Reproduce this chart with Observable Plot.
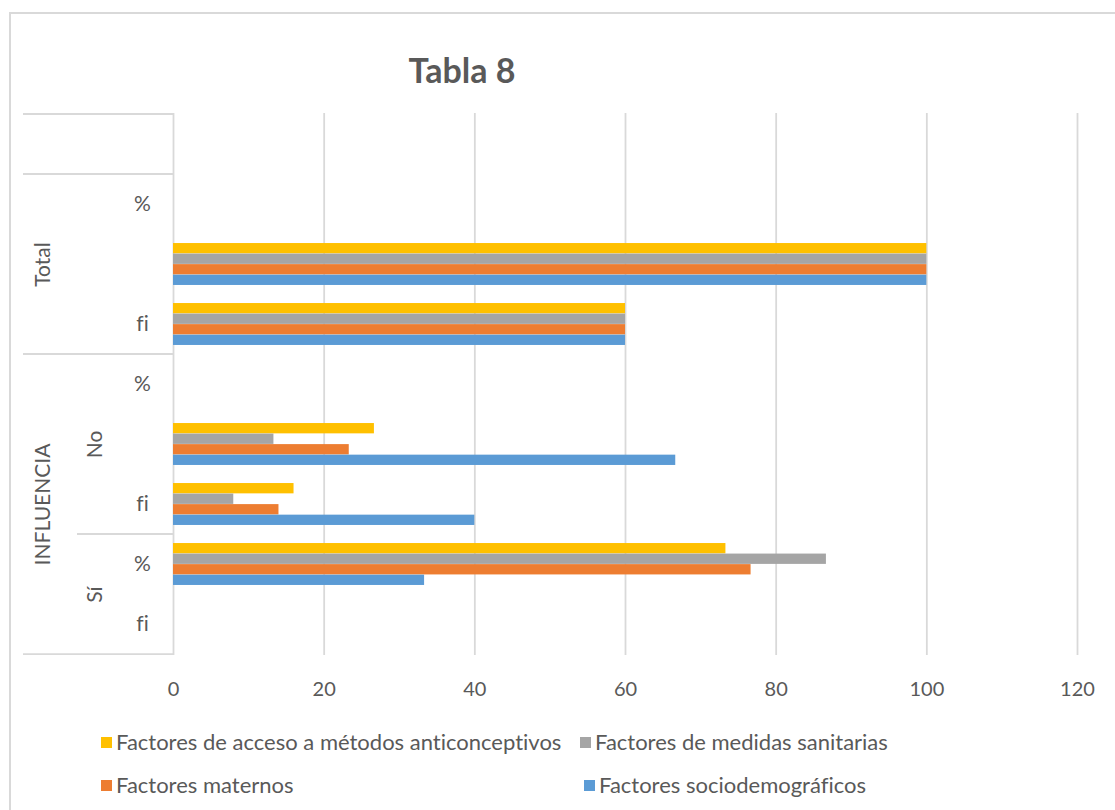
<!DOCTYPE html>
<html><head><meta charset="utf-8">
<script src="https://cdn.jsdelivr.net/npm/d3@7"></script>
<script src="https://cdn.jsdelivr.net/npm/@observablehq/plot@0.6"></script>
<style>
body{margin:0;background:#fff;font-family:Lato,"Open Sans",sans-serif;font-variant-ligatures:none;}
#wrap{position:relative;width:1115px;height:810px;overflow:hidden;background:#fff;}
#frame{position:absolute;left:9px;top:12px;width:1120px;height:820px;border-left:2px solid #d9d9d9;border-top:2px solid #d9d9d9;}
#chart{position:absolute;left:0;top:0;}
#chart svg text{font-variant-ligatures:none;}
#title{position:absolute;top:47px;left:362px;width:200px;text-align:center;font-weight:bold;font-size:34px;line-height:46px;color:#595959;}
.leg{position:absolute;font-size:22px;line-height:28px;color:#595959;white-space:nowrap;display:flex;align-items:center;}
.sw{display:inline-block;width:11px;height:11px;margin-right:4px;}
</style></head>
<body><div id="wrap"><div id="frame"></div><div id="chart"></div><div id="title">Tabla 8</div><div id="legend"></div></div>
<script>
// category slots, top to bottom
const slots = ["r1","r2","r3","r4","r5","r6","r7","r8","r9"];
const innerLabels = ["", "%", "", "fi", "%", "", "fi", "%", "fi"];
const outerLabels = [
  {slot: "r3", text: "Total", level: 0},
  {slot: "r7", text: "INFLUENCIA", level: 0},
  {slot: "r6", text: "No", level: 1},
  {slot: "r8", text: "Sí", level: 1}
];
const series = [
  "Factores de acceso a métodos anticonceptivos",
  "Factores de medidas sanitarias",
  "Factores maternos",
  "Factores sociodemográficos"
];
const colors = ["#FFC000", "#A5A5A5", "#ED7D31", "#5B9BD5"];
const acceso    = [null, null, 100, 60, null, 26.67, 16, 73.33, null];
const medidas   = [null, null, 100, 60, null, 13.33,  8, 86.67, null];
const maternos  = [null, null, 100, 60, null, 23.33, 14, 76.67, null];
const socio     = [null, null, 100, 60, null, 66.67, 40, 33.33, null];
const xTicks = [0, 20, 40, 60, 80, 100, 120];

const seriesValues = [acceso, medidas, maternos, socio];
const W = 1115, H = 720, mTop = 113, mBottom = H - 655, mLeft = 173, mRight = W - 1077;
const bw = (H - mTop - mBottom) / slots.length;
const groupFrac = 0.70;
const barH = bw * groupFrac / 4;
const gap = (bw - barH * 4) / 2;

const rows = [];
seriesValues.forEach((vals, k) => vals.forEach((v, i) => {
  if (v != null) rows.push({slot: slots[i], value: v, k});
}));
const inner = slots.map((s, i) => ({slot: s, text: innerLabels[i]})).filter(d => d.text);

const marks = [
  Plot.gridX(xTicks, {stroke: "#d9d9d9", strokeOpacity: 1, strokeWidth: 1.8}),
  ...series.map((name, k) => Plot.barX(rows.filter(d => d.k === k), {
    y: "slot", x: "value", fill: colors[k],
    insetTop: gap + barH * k, insetBottom: gap + barH * (3 - k)
  })),
  Plot.text(inner, {y: "slot", text: "text", frameAnchor: "left", dx: -31, textAnchor: "middle", fill: "#595959", fontSize: 21}),
  Plot.text(outerLabels.filter(d => d.level === 0), {y: "slot", text: "text", frameAnchor: "left", dx: -130, rotate: -90, textAnchor: "middle", fill: "#595959", fontSize: 21}),
  Plot.text(outerLabels.filter(d => d.level === 1 && d.text === "No"), {y: "slot", text: "text", frameAnchor: "left", dx: -78, rotate: -90, textAnchor: "middle", fill: "#595959", fontSize: 21}),
  Plot.text(outerLabels.filter(d => d.level === 1 && d.text === "Sí"), {y: "slot", text: "text", frameAnchor: "left", dx: -78, dy: bw / 2, rotate: -90, textAnchor: "middle", fill: "#595959", fontSize: 21})
];

const chart = Plot.plot({
  width: W, height: H,
  marginTop: mTop, marginBottom: mBottom, marginLeft: mLeft, marginRight: mRight,
  style: {fontFamily: "Lato, 'Open Sans', sans-serif", fontSize: "20px", color: "#595959", background: "transparent"},
  x: {domain: [0, 120], ticks: xTicks, tickSize: 0, tickPadding: 26, label: null, tickFormat: d => String(d)},
  y: {domain: slots, padding: 0, axis: null},
  marks
});
document.getElementById("chart").appendChild(chart);

// category divider lines of the multi-level axis
const ys = chart.scale("y");
const yTop = s => ys.apply(s);
const svg = d3.select(chart);
const g = svg.append("g").attr("stroke", "#d9d9d9").attr("stroke-width", 1.8);
const dividers = [
  {y: yTop("r1"), x1: 23},
  {y: yTop("r2"), x1: 23},
  {y: yTop("r5"), x1: 23},
  {y: yTop("r8"), x1: 77},
  {y: yTop("r9") + bw, x1: 23}
];
dividers.forEach(d => g.append("line").attr("x1", d.x1).attr("x2", mLeft).attr("y1", d.y).attr("y2", d.y));

// legend
const legendPos = [[101, 742], [580, 742], [101, 785], [584, 785]];
const leg = document.getElementById("legend");
series.forEach((name, k) => {
  const el = document.createElement("div");
  el.className = "leg";
  el.style.left = legendPos[k][0] + "px";
  el.style.top = (legendPos[k][1] - 14) + "px";
  el.innerHTML = `<span class="sw" style="background:${colors[k]}"></span><span>${name}</span>`;
  leg.appendChild(el);
});
</script></body></html>
